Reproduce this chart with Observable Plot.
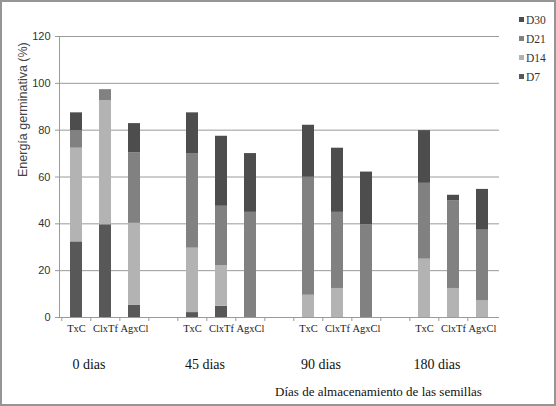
<!DOCTYPE html>
<html>
<head>
<meta charset="utf-8">
<script src="https://cdn.jsdelivr.net/npm/d3@7"></script>
<script src="https://cdn.jsdelivr.net/npm/@observablehq/plot@0.6"></script>
<style>
  body { margin: 0; background: #fff; }
  #wrap { position: relative; width: 556px; height: 406px; }
  #chart svg { position: absolute; left: 0; top: 0; }
  #border { position: absolute; left: 0; top: 0; width: 556px; height: 406px; box-sizing: border-box; border: 2px solid #959595; pointer-events: none; }
  #legend { position: absolute; left: 519px; top: 13px; font: 11.5px "Liberation Serif", serif; color: #333; }
  #legend div { height: 19px; line-height: 14px; white-space: nowrap; }
  #legend span { display: inline-block; width: 5px; height: 5px; margin-right: 2px; vertical-align: 2px; }
  .period { position: absolute; top: 357px; font: 14px "Liberation Serif", serif; color: #111; transform: translateX(-50%); white-space: nowrap; }
</style>
</head>
<body>
<div id="wrap">
  <div id="chart"></div>
  <div id="legend"></div>
  <div id="border"></div>
</div>
<script>
const periods = ["0 dias", "45 dias", "90 dias", "180 dias"];
const crosses = ["TxC", "ClxTf", "AgxCl"];
const series = ["D7", "D14", "D21", "D30"];
const colors = ["#585858", "#b3b3b3", "#818181", "#4d4d4d"];
const yTicks = [0, 20, 40, 60, 80, 100, 120];

// valores por periodo x cruce (0 dias TxC, ClxTf, AgxCl, 45 dias ...)
const d7  = [32.3, 39.6, 5.3, 2.1, 4.8, 0, 0, 0, 0, 0, 0, 0];
const d14 = [40.0, 53.0, 34.9, 27.5, 17.4, 0, 9.5, 12.4, 0, 24.9, 12.4, 7.1];
const d21 = [7.5, 4.7, 30.1, 40.4, 25.3, 44.9, 50.4, 32.5, 39.6, 32.4, 37.5, 30.2];
const d30 = [7.6, 0, 12.5, 17.4, 29.9, 25.1, 22.2, 27.4, 22.5, 22.5, 2.3, 17.4];

const xLabel = "Días de almacenamiento de las semillas";
const yLabel = "Energía germinativa (%)";

const serif = "Liberation Serif";
const sans = "Liberation Sans";

// slots del eje x: 3 cruces por periodo y un hueco entre periodos
let slots = [];
periods.forEach((p, i) => {
  crosses.forEach(c => slots.push(p + "|" + c));
  if (i < periods.length - 1) slots.push("gap" + i);
});

let values = [d7, d14, d21, d30];
let data = [];
series.forEach((s, si) => {
  periods.forEach((p, pi) => {
    crosses.forEach((c, ci) => {
      data.push({slot: p + "|" + c, serie: s, value: values[si][pi * 3 + ci]});
    });
  });
});

const step = 440 / slots.length;

let chart = Plot.plot({
  width: 556,
  height: 406,
  marginLeft: 59,
  marginRight: 57,
  marginTop: 36,
  marginBottom: 89,
  style: {fontSize: "11px", color: "#222", background: "transparent"},
  x: {domain: slots, paddingInner: 0.59, paddingOuter: 0.295, axis: null},
  y: {domain: [0, 120]},
  color: {domain: series, range: colors},
  marks: [
    Plot.gridY(yTicks, {stroke: "#9a9a9a", strokeOpacity: 1}),
    Plot.frame({anchor: "left", stroke: "#9a9a9a"}),
    Plot.axisY(yTicks, {tickSize: 4, tickPadding: 5, stroke: "#9a9a9a", label: null,
      fontSize: 11, fill: "#333"}),
    Plot.text([yLabel], {frameAnchor: "left", dx: -37, rotate: -90,
      fontSize: 12.5, fill: "#444"}),
    Plot.barY(data, {x: "slot", y: "value", fill: "serie"}),
    Plot.ruleY([0], {stroke: "#9a9a9a"}),
    Plot.axisX(slots, {tickSize: 4, dx: -step / 2, text: null, label: null, stroke: "#9a9a9a"}),
    Plot.axisX(slots.filter(s => s.includes("|")), {tickSize: 0, tickPadding: 7, label: null,
      tickFormat: s => s.split("|")[1], fontSize: 10.5, fill: "#222"}),
    Plot.text([xLabel], {frameAnchor: "bottom", dx: 99, dy: 78, fontSize: 13, fill: "#111"})
  ]
});

// fuentes: serif para todo salvo el eje y
let svg = d3.select(chart);
svg.selectAll("text").style("font-family", serif);
svg.selectAll('g[aria-label="y-axis tick label"] text').style("font-family", sans);
svg.selectAll("text").filter(function() { return this.textContent === yLabel; }).style("font-family", sans);

d3.select("#chart").append(() => chart);

// etiquetas de periodo bajo cada grupo, situadas con la escala x
let x = chart.scale("x");
d3.select("#wrap").selectAll(".period").data(periods).join("div")
  .attr("class", "period")
  .style("left", p => (x.apply(p + "|TxC") + x.bandwidth / 2 + 13) + "px")
  .text(p => p);

// leyenda, de arriba a abajo D30 ... D7
let legend = d3.select("#legend");
series.slice().reverse().forEach(s => {
  let row = legend.append("div");
  row.append("span").style("background", colors[series.indexOf(s)]);
  row.append("text").text(s);
});
</script>
</body>
</html>
